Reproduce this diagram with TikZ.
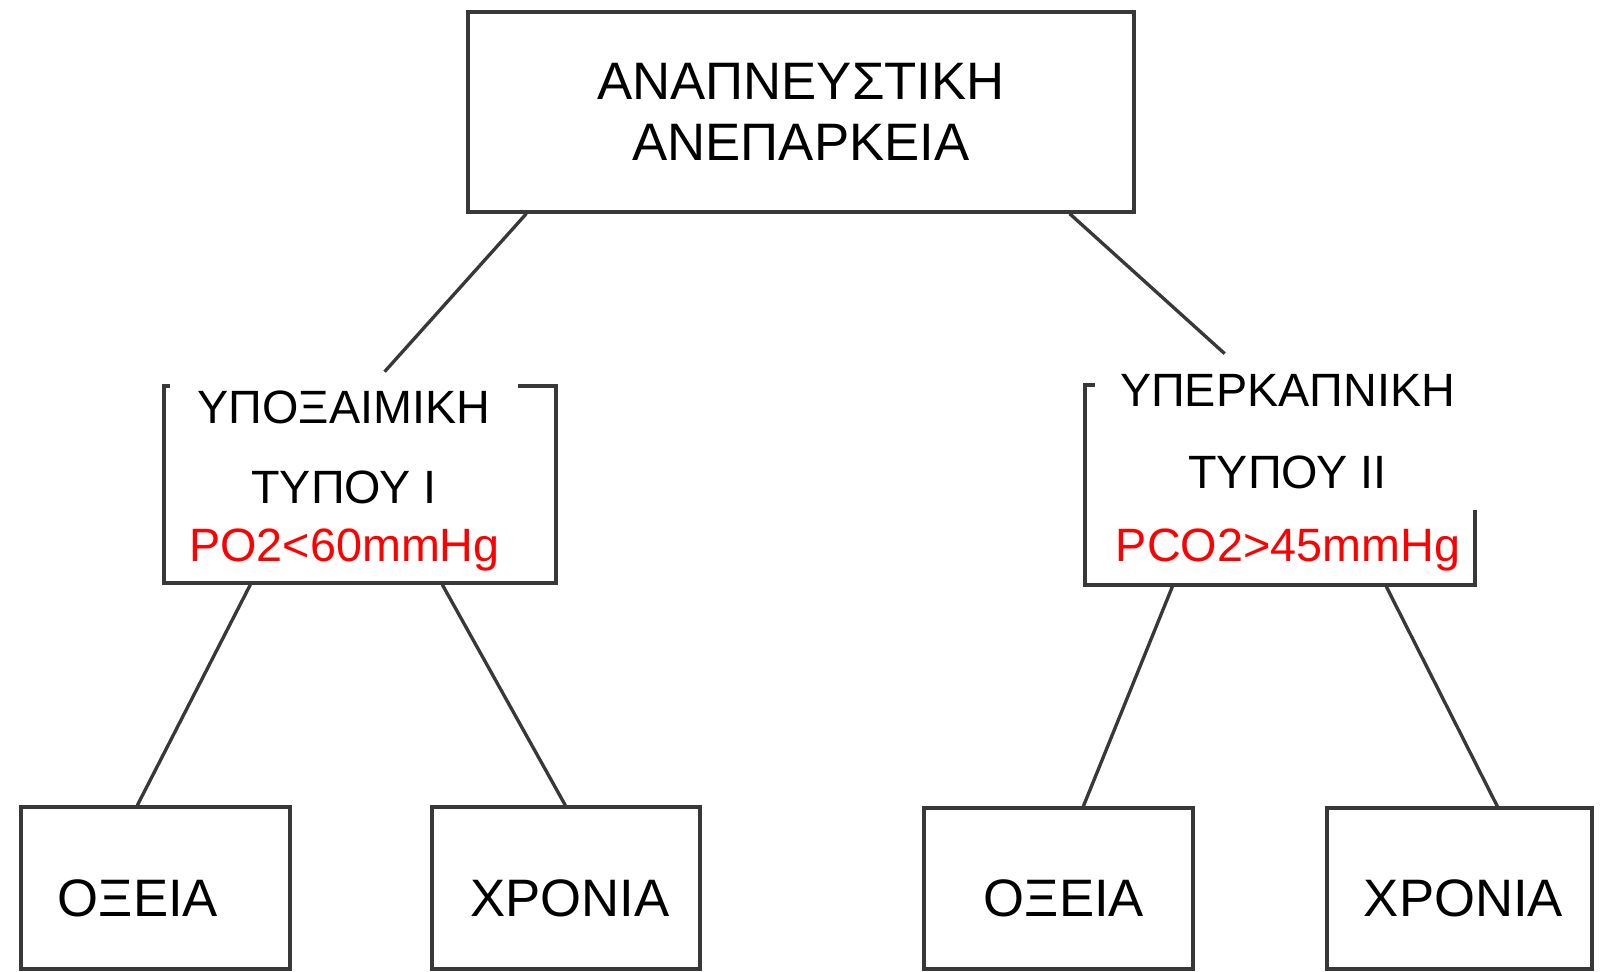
\documentclass[tikz,border=0pt]{standalone}
\usepackage{fontspec}
\setmainfont{Liberation Sans}
\usetikzlibrary{positioning}

\begin{document}
\begin{tikzpicture}[x = 0.02cm, y = -0.02cm,
		box/.style = {draw=black!78, line width=1.9pt, inner sep=0pt},
		bigtxt/.style = {font=\fontsize{30}{34.6}\selectfont, align=center, inner sep=0pt},
		midtxt/.style = {font=\fontsize{26.6}{45.5}\selectfont, align=center, inner sep=0pt},
		cover/.style = {fill=white, inner sep=0pt},
		redval/.style = {font=\fontsize{26.6}{30}\selectfont, text=red, inner sep=0pt, anchor=base},
		link/.style = {draw=black!78, line width=1.9pt}]
			\useasboundingbox (0,0) rectangle (1610,972);

			\node[box, bigtxt, minimum width=13.32cm, minimum height=4cm] (resp) at (801,112) {ΑΝΑΠΝΕΥΣΤΙΚΗ\\ΑΝΕΠΑΡΚΕΙΑ};
			\node[box, minimum width=7.84cm, minimum height=3.94cm] (hypox) at (360,484.5) {};
			\node[box, minimum width=7.8cm, minimum height=4cm] (hyperc) at (1280,485) {};

			% titles sit on white patches over the frame
			\node[cover, midtxt, minimum width=6.96cm, minimum height=3cm] (hypoxT) at (344,447) {ΥΠΟΞΑΙΜΙΚΗ\\ΤΥΠΟΥ I};
			\node[cover, midtxt, font=\fontsize{26.6}{46.5}\selectfont, minimum width=7.7cm, minimum height=3.12cm] (hypercT) at (1287.5,432) {ΥΠΕΡΚΑΠΝΙΚΗ\\ΤΥΠΟΥ II};
			\node[redval] (hypoxV) at (344.5,562) {PO2<60mmHg};
			\node[redval] (hypercV) at (1288,562) {PCO2>45mmHg};

			\node[box, minimum width=5.38cm, minimum height=3.24cm] (acuteL) at (155.5,888) {};
			\node[box, minimum width=5.36cm, minimum height=3.24cm] (chronL) at (566,888) {};
			\node[box, minimum width=5.38cm, minimum height=3.22cm] (acuteR) at (1058.5,888.5) {};
			\node[box, minimum width=5.3cm, minimum height=3.22cm] (chronR) at (1459.5,888.5) {};
			\node[bigtxt, anchor=base] (acuteLt) at (138,916) {ΟΞΕΙΑ};
			\node[bigtxt, anchor=base] (chronLt) at (570,916) {ΧΡΟΝΙΑ};
			\node[bigtxt, anchor=base] (acuteRt) at (1064,916) {ΟΞΕΙΑ};
			\node[bigtxt, anchor=base] (chronRt) at (1463.5,916) {ΧΡΟΝΙΑ};

			\path[link]
				([xshift=1.2cm]resp.south west) edge ([xshift=4.3cm]hypoxT.north west)
				([xshift=-1.32cm]resp.south east) edge ([xshift=2.6cm]hypercT.north west)
				([xshift=1.76cm]hypox.south west) edge ([xshift=2.36cm]acuteL.north west)
				([xshift=5.6cm]hypox.south west) edge ([xshift=2.7cm]chronL.north west)
				([xshift=1.78cm]hyperc.south west) edge ([xshift=3.22cm]acuteR.north west)
				([xshift=6.06cm]hyperc.south west) edge ([xshift=3.44cm]chronR.north west);
		\end{tikzpicture}
\end{document}
